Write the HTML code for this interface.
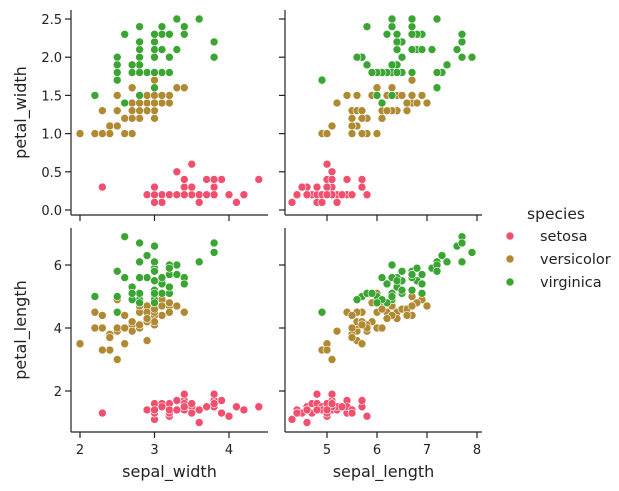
<!DOCTYPE html>
<html><head><meta charset="utf-8">
<style>
html,body{margin:0;padding:0;background:#fff;}
svg{display:block;font-family:"DejaVu Sans","Liberation Sans",sans-serif;}
</style></head>
<body>
<svg id="chart" width="619" height="491" viewBox="0 0 619 491" xmlns="http://www.w3.org/2000/svg"></svg>
<script>
const species = ["setosa","versicolor","virginica"];
const colors = ["#f0506e","#b08a32","#3aa532"];
const sepalLength = [5.1,4.9,4.7,4.6,5.0,5.4,4.6,5.0,4.4,4.9,5.4,4.8,4.8,4.3,5.8,5.7,5.4,5.1,5.7,5.1,5.4,5.1,4.6,5.1,4.8,5.0,5.0,5.2,5.2,4.7,4.8,5.4,5.2,5.5,4.9,5.0,5.5,4.9,4.4,5.1,5.0,4.5,4.4,5.0,5.1,4.8,5.1,4.6,5.3,5.0,
7.0,6.4,6.9,5.5,6.5,5.7,6.3,4.9,6.6,5.2,5.0,5.9,6.0,6.1,5.6,6.7,5.6,5.8,6.2,5.6,5.9,6.1,6.3,6.1,6.4,6.6,6.8,6.7,6.0,5.7,5.5,5.5,5.8,6.0,5.4,6.0,6.7,6.3,5.6,5.5,5.5,6.1,5.8,5.0,5.6,5.7,5.7,6.2,5.1,5.7,
6.3,5.8,7.1,6.3,6.5,7.6,4.9,7.3,6.7,7.2,6.5,6.4,6.8,5.7,5.8,6.4,6.5,7.7,7.7,6.0,6.9,5.6,7.7,6.3,6.7,7.2,6.2,6.1,6.4,7.2,7.4,7.9,6.4,6.3,6.1,7.7,6.3,6.4,6.0,6.9,6.7,6.9,5.8,6.8,6.7,6.7,6.3,6.5,6.2,5.9];
const sepalWidth = [3.5,3.0,3.2,3.1,3.6,3.9,3.4,3.4,2.9,3.1,3.7,3.4,3.0,3.0,4.0,4.4,3.9,3.5,3.8,3.8,3.4,3.7,3.6,3.3,3.4,3.0,3.4,3.5,3.4,3.2,3.1,3.4,4.1,4.2,3.1,3.2,3.5,3.6,3.0,3.4,3.5,2.3,3.2,3.5,3.8,3.0,3.8,3.2,3.7,3.3,
3.2,3.2,3.1,2.3,2.8,2.8,3.3,2.4,2.9,2.7,2.0,3.0,2.2,2.9,2.9,3.1,3.0,2.7,2.2,2.5,3.2,2.8,2.5,2.8,2.9,3.0,2.8,3.0,2.9,2.6,2.4,2.4,2.7,2.7,3.0,3.4,3.1,2.3,3.0,2.5,2.6,3.0,2.6,2.3,2.7,3.0,2.9,2.9,2.5,2.8,
3.3,2.7,3.0,2.9,3.0,3.0,2.5,2.9,2.5,3.6,3.2,2.7,3.0,2.5,2.8,3.2,3.0,3.8,2.6,2.2,3.2,2.8,2.8,2.7,3.3,3.2,2.8,3.0,2.8,3.0,2.8,3.8,2.8,2.8,2.6,3.0,3.4,3.1,3.0,3.1,3.1,3.1,2.7,3.2,3.3,3.0,2.5,3.0,3.4,3.0];
const petalLength = [1.4,1.4,1.3,1.5,1.4,1.7,1.4,1.5,1.4,1.5,1.5,1.6,1.4,1.1,1.2,1.5,1.3,1.4,1.7,1.5,1.7,1.5,1.0,1.7,1.9,1.6,1.6,1.5,1.4,1.6,1.6,1.5,1.5,1.4,1.5,1.2,1.3,1.4,1.3,1.5,1.3,1.3,1.3,1.6,1.9,1.4,1.6,1.4,1.5,1.4,
4.7,4.5,4.9,4.0,4.6,4.5,4.7,3.3,4.6,3.9,3.5,4.2,4.0,4.7,3.6,4.4,4.5,4.1,4.5,3.9,4.8,4.0,4.9,4.7,4.3,4.4,4.8,5.0,4.5,3.5,3.8,3.7,3.9,5.1,4.5,4.5,4.7,4.4,4.1,4.0,4.4,4.6,4.0,3.3,4.2,4.2,4.2,4.3,3.0,4.1,
6.0,5.1,5.9,5.6,5.8,6.6,4.5,6.3,5.8,6.1,5.1,5.3,5.5,5.0,5.1,5.3,5.5,6.7,6.9,5.0,5.7,4.9,6.7,4.9,5.7,6.0,4.8,4.9,5.6,5.8,6.1,6.4,5.6,5.1,5.6,6.1,5.6,5.5,4.8,5.4,5.6,5.1,5.1,5.9,5.7,5.2,5.0,5.2,5.4,5.1];
const petalWidth = [0.2,0.2,0.2,0.2,0.2,0.4,0.3,0.2,0.2,0.1,0.2,0.2,0.1,0.1,0.2,0.4,0.4,0.3,0.3,0.3,0.2,0.4,0.2,0.5,0.2,0.2,0.4,0.2,0.2,0.2,0.2,0.4,0.1,0.2,0.2,0.2,0.2,0.1,0.2,0.2,0.3,0.3,0.2,0.6,0.4,0.3,0.2,0.2,0.2,0.2,
1.4,1.5,1.5,1.3,1.5,1.3,1.6,1.0,1.3,1.4,1.0,1.5,1.0,1.4,1.3,1.4,1.5,1.0,1.5,1.1,1.8,1.3,1.5,1.2,1.3,1.4,1.4,1.7,1.5,1.0,1.1,1.0,1.2,1.6,1.5,1.6,1.5,1.3,1.3,1.3,1.2,1.4,1.2,1.0,1.3,1.2,1.3,1.3,1.1,1.3,
2.5,1.9,2.1,1.8,2.2,2.1,1.7,1.8,1.8,2.5,2.0,1.9,2.1,2.0,2.4,2.3,1.8,2.2,2.3,1.5,2.3,2.0,2.0,1.8,2.1,1.8,1.8,1.8,2.1,1.6,1.9,2.0,2.2,1.5,1.4,2.3,2.4,1.8,1.8,2.1,2.4,2.3,1.9,2.3,2.5,2.3,1.9,2.0,2.3,1.8];
const speciesIndex = sepalLength.map((_, i) => Math.floor(i / 50));
const ticksSepalWidth = [2,3,4];
const ticksSepalLength = [5,6,7,8];
const ticksPetalWidth = ["0.0","0.5","1.0","1.5","2.0","2.5"];
const ticksPetalLength = [2,4,6];

const NS = "http://www.w3.org/2000/svg";
const svg = document.getElementById("chart");
function el(tag, attrs, parent) {
  const e = document.createElementNS(NS, tag);
  for (const k in attrs) e.setAttribute(k, attrs[k]);
  (parent || svg).appendChild(e);
  return e;
}
function lin(d0, d1, r0, r1) { return v => r0 + (v - d0) / (d1 - d0) * (r1 - r0); }
const xSW = lin(2, 4, 80, 229);
const xSL = lin(5, 8, 327, 477);
const yPW = lin(0, 2.5, 210, 19);
const yPL = lin(2, 6, 391, 265);

const panels = [
  {name:"sepal-width-vs-petal-width", x:sepalWidth, y:petalWidth, sx:xSW, sy:yPW, x0:71, x1:268, y0:10, y1:215, xt:ticksSepalWidth, yt:ticksPetalWidth, xl:false, yl:true, xlab:null, ylab:"petal_width"},
  {name:"sepal-length-vs-petal-width", x:sepalLength, y:petalWidth, sx:xSL, sy:yPW, x0:285, x1:482, y0:10, y1:215, xt:ticksSepalLength, yt:ticksPetalWidth, xl:false, yl:false, xlab:null, ylab:null},
  {name:"sepal-width-vs-petal-length", x:sepalWidth, y:petalLength, sx:xSW, sy:yPL, x0:71, x1:268, y0:228, y1:432, xt:ticksSepalWidth, yt:ticksPetalLength, xl:true, yl:true, xlab:"sepal_width", ylab:"petal_length"},
  {name:"sepal-length-vs-petal-length", x:sepalLength, y:petalLength, sx:xSL, sy:yPL, x0:285, x1:482, y0:228, y1:432, xt:ticksSepalLength, yt:ticksPetalLength, xl:true, yl:false, xlab:"sepal_length", ylab:null}
];

panels.forEach(p => {
  const g = el("g", {});
  
  
  for (let i = 0; i < p.x.length; i++) {
    const c = el("circle", {cx:p.sx(p.x[i]), cy:p.sy(p.y[i]), r:4, fill:colors[speciesIndex[i]], stroke:"#fff", "stroke-width":0.6}, g);
    
    
  }
  const ax = el("line", {x1:p.x0, x2:p.x1, y1:p.y1, y2:p.y1, stroke:"#222", "stroke-width":1.2}, g);
  
  
  const ay = el("line", {x1:p.x0, x2:p.x0, y1:p.y0, y2:p.y1, stroke:"#222", "stroke-width":1.2}, g);
  
  
  p.xt.forEach(t => {
    const x = p.sx(+t);
    el("line", {x1:x, x2:x, y1:p.y1, y2:p.y1+6, stroke:"#222", "stroke-width":1.2}, g);
    if (p.xl) {
      const tx = el("text", {x:x, y:p.y1+22, "text-anchor":"middle", "font-size":13, fill:"#222"}, g);
      tx.textContent = t;
      
      
    }
  });
  p.yt.forEach(t => {
    const y = p.sy(+t);
    el("line", {x1:p.x0-6, x2:p.x0, y1:y, y2:y, stroke:"#222", "stroke-width":1.2}, g);
    if (p.yl) {
      const ty = el("text", {x:p.x0-9, y:y+5, "text-anchor":"end", "font-size":13, fill:"#222"}, g);
      ty.textContent = t;
      
      
    }
  });
  if (p.xlab) {
    const t = el("text", {x:(p.x0+p.x1)/2, y:477, "text-anchor":"middle", "font-size":16, fill:"#222"}, g);
    t.textContent = p.xlab;
    
    
  }
  if (p.ylab) {
    const cy = (p.y0+p.y1)/2;
    const t = el("text", {x:0, y:0, "text-anchor":"middle", "font-size":16, fill:"#222", transform:`translate(26,${cy}) rotate(-90)`}, g);
    t.textContent = p.ylab;
    
    
  }
});

const lg = el("g", {});


const lt = el("text", {x:556, y:219, "text-anchor":"middle", "font-size":15.5, fill:"#222"}, lg);
lt.textContent = "species";


species.forEach((s, i) => {
  const y = 236 + i * 23;
  const c = el("circle", {cx:510, cy:y, r:4, fill:colors[i], stroke:"#fff", "stroke-width":0.6}, lg);
  
  
  const t = el("text", {x:540, y:y+5, "font-size":14.5, fill:"#222"}, lg);
  t.textContent = s;
  
  
});
</script>
</body></html>
